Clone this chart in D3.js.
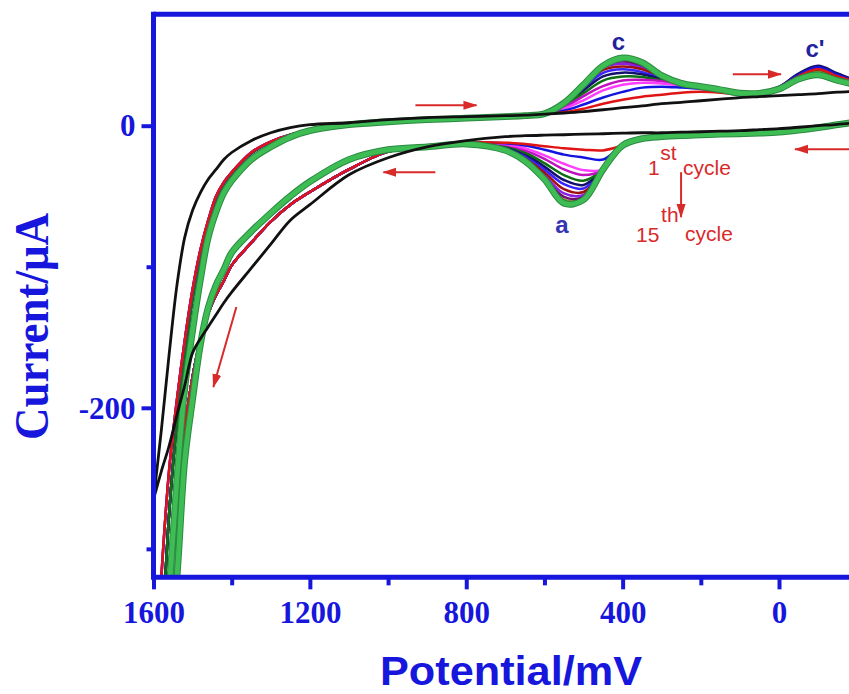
<!DOCTYPE html>
<html>
<head>
<meta charset="utf-8">
<script src="https://cdn.jsdelivr.net/npm/d3@7"></script>
<style>
  body { margin: 0; background: #fff; }
  svg { display: block; }
</style>
</head>
<body>
<svg id="chart" width="849" height="694"></svg>
<script>
// potential grids (mV); the steep part near 1600 mV and the peak region
const steepE = [1600, 1580, 1560, 1540, 1520, 1500, 1480, 1460, 1440, 1420, 1400, 1350, 1300, 1250, 1200, 1100, 1000];
const midE = [900, 800, 700, 650, 600, 550, 500, 450, 400, 350, 300, 250, 200, 150, 100, 50, 0, -50, -100, -150, -200, -250, -300];

// steep part of the loops (current, uA), upper and lower branch
const blackUpSteep = [-265, -216, -162, -113, -79, -60, -47.5, -38, -31, -24, -19, -10.6, -5, -1.4, 0.7, 2.1, 4.3];
const blackDnSteep = [-265, -245, -227, -205, -184, -161, -151, -142.5, -134, -125.5, -118, -101, -84, -67, -56, -34.8, -22.7];
const greenUpSteep = [-480, -400, -330, -250, -186, -145, -109, -79, -61, -47.5, -39, -24, -15, -8, -3.5, 0.7, 2.8];
const greenDnSteep = [-520, -450, -380, -320, -237, -194, -155, -129, -113, -102, -90, -75, -62, -50, -39.7, -24, -17];
const bandUpA = [-420, -320, -244, -194, -152, -116, -88, -67, -50, -40, -33, -19, -11.3, -6.4, -3.5, 0.7, 2.8];
const bandUpB = [-440, -370, -275, -210, -162, -122, -92, -70, -52, -41, -34, -19.5, -11.5, -6.5, -3.5, 0.7, 2.8];
const bandDn = [-400, -360, -320, -265, -215, -178, -152, -133, -120, -110, -99, -83, -68, -56, -47, -31, -18.4];

// peak region of the black (no redox peaks) curve
const blackUpMid = [5.7, 6.4, 7.1, 7.5, 8.2, 9, 10, 11.3, 12.8, 14, 15.6, 16.5, 17.7, 18.8, 19.9, 20.6, 21.3, 22, 22.7, 23.8, 24.5, 25.3, 26];
const blackDnMid = [-15, -10.6, -7.8, -7.1, -6.7, -6.4, -6, -5.7, -5.3, -5, -5, -4.6, -4.3, -3.9, -3.5, -2.8, -2.1, -1.1, 0, 1, 2.8, 10, 24];

// cycles 1st .. 15th (last is the thick green one)
const cycleColors = ["#e01414", "#1414e0", "#ff3cff", "#c010c0", "#0f6e14", "#12126e", "#3a22ff",
                     "#a01010", "#8a20e0", "#6e106e", "#86862a", "#3a7a78", "#b0601e", "#3fbd55"];

const cyclesUpMid = [
  [4.3, 5.3, 6.4, 7.1, 8.3, 9.5, 12, 15.6, 18.4, 20.6, 22, 23.4, 24, 23.4, 22, 23.4, 27, 35, 40, 35, 31, 29, 28],
  [4.3, 5.3, 6.4, 7.1, 8.3, 10.6, 15, 20, 24, 27, 27.7, 27, 26, 24.5, 22.5, 23.4, 27, 36, 41.5, 36, 31.5, 29, 28],
  [4.3, 5.3, 6.4, 7.1, 8.3, 12, 18, 25, 29, 30.5, 30, 28.5, 27, 25, 22.5, 23.4, 27, 35.5, 40.5, 35.5, 31, 29, 28],
  [4.3, 5.3, 6.4, 7.1, 8.3, 13, 21, 28, 32, 32.5, 31.5, 29.5, 27.5, 25.5, 23, 23.4, 27, 35.5, 41, 35.5, 31, 29, 28],
  [4.3, 5.3, 6.4, 7.1, 8.3, 14, 23, 32, 34.8, 34.5, 32, 30, 28, 26, 23, 23.4, 27, 35, 40, 35, 31, 29, 28],
  [4.3, 5.3, 6.4, 7.1, 8.3, 14.5, 25, 35, 37.6, 36.5, 33, 30.5, 28, 26, 23, 23.5, 27.5, 37, 42.5, 37, 32, 29.5, 28],
  [4.3, 5.3, 6.4, 7.1, 8.3, 15, 26.5, 37.5, 40, 38, 33.5, 30.5, 28, 26, 23, 23.5, 27.5, 36.5, 42, 36.5, 31.5, 29, 28],
  [4.3, 5.3, 6.4, 7.1, 8.3, 15.5, 27.5, 39.5, 42, 40, 34, 30.5, 28, 26, 23, 23.4, 27, 35, 40, 35, 31, 29, 28],
  [4.3, 5.3, 6.4, 7.1, 8.3, 15.5, 28, 41, 44, 41, 34.5, 30.5, 28, 26, 23, 23.4, 27, 35.5, 41, 35.5, 31, 29, 28],
  [4.3, 5.3, 6.4, 7.1, 8.3, 16, 28.5, 42, 45.5, 42, 35, 30.5, 28, 26, 23, 23.4, 27, 35.5, 41, 35.5, 31, 29, 28],
  [4.3, 5.3, 6.4, 7.1, 8.3, 16, 28.5, 42.5, 46.5, 43, 35, 30.5, 28, 26, 23, 23.4, 27, 34.5, 39, 34, 30.5, 28.5, 28],
  [4.3, 5.3, 6.4, 7.1, 8.3, 16, 29, 42.5, 47, 43.5, 35.3, 30.5, 28, 26, 23, 23.4, 26.5, 34, 38, 33.5, 30, 28, 27.5],
  [4.3, 5.3, 6.4, 7.1, 8.3, 16, 29, 42.5, 47.5, 44, 35.5, 30.5, 28, 26, 23, 23.4, 26.5, 34, 37.5, 33, 30, 28, 27.5],
  [4.3, 5.3, 6.4, 7.1, 8.5, 16, 29, 42.5, 48, 44.7, 35.5, 30, 27.7, 25.5, 23, 23, 26, 33, 36, 32, 29, 27.7, 27]
];

const cyclesDnMid = [
  [-15, -12, -12, -13, -14.5, -16, -17, -17.5, -14, -9.2, -7.8, -7, -6.5, -6, -5.7, -5.3, -4.6, -3.2, -1.4, 0.7, 3.5, 12, 27],
  [-15, -12, -12.5, -14, -17, -20.5, -22.5, -24, -14, -9.2, -7.8, -7, -6.5, -6, -5.7, -5.3, -4.6, -3.2, -1.4, 0.7, 3.5, 12, 27],
  [-15, -12, -13, -16, -21, -27, -31.5, -31, -14, -9.2, -7.8, -7, -6.5, -6, -5.7, -5.3, -4.6, -3.2, -1.4, 0.7, 3.5, 12, 27],
  [-15, -12, -13.5, -17.5, -23.5, -31, -35, -31, -14, -9.2, -7.8, -7, -6.5, -6, -5.7, -5.3, -4.6, -3.2, -1.4, 0.7, 3.5, 12, 27],
  [-15, -12.5, -14, -19, -26.5, -35, -39, -31, -14, -9.2, -7.8, -7, -6.5, -6, -5.7, -5.3, -4.6, -3.2, -1.4, 0.7, 3.5, 12, 27],
  [-15, -12.5, -14.5, -20, -29, -38.5, -42, -31, -14, -9.2, -7.8, -7, -6.5, -6, -5.7, -5.3, -4.6, -3.2, -1.4, 0.7, 3.5, 12, 27],
  [-15, -12.5, -15, -21, -31, -41.5, -44.5, -31, -14, -9.2, -7.8, -7, -6.5, -6, -5.7, -5.3, -4.6, -3.2, -1.4, 0.7, 3.5, 12, 27],
  [-15, -13, -15.5, -22, -33, -45, -47, -31, -14, -9.2, -7.8, -7, -6.5, -6, -5.7, -5.3, -4.6, -3.2, -1.4, 0.7, 3.5, 12, 27],
  [-15, -13, -16, -23, -35, -48, -49, -31, -14, -9.2, -7.8, -7, -6.5, -6, -5.7, -5.3, -4.6, -3.2, -1.4, 0.7, 3.5, 12, 27],
  [-15, -13, -16.5, -23.5, -36, -50.5, -50.5, -31, -14, -9.2, -7.8, -7, -6.5, -6, -5.7, -5.3, -4.6, -3.2, -1.4, 0.7, 3.5, 12, 27],
  [-15, -13, -17, -24, -37, -52.5, -51.5, -31, -14, -9.2, -7.8, -7, -6.5, -6, -5.7, -5.3, -4.6, -3.2, -1.4, 0.7, 3.5, 12, 27],
  [-15, -13, -17, -24.5, -37.5, -53.5, -52, -31, -14, -9.2, -7.8, -7, -6.5, -6, -5.7, -5.3, -4.6, -3.2, -1.4, 0.7, 3.5, 12, 27],
  [-15, -13, -17.5, -25, -38, -54.5, -52.5, -31, -14, -9.2, -7.8, -7, -6.5, -6, -5.7, -5.3, -4.6, -3.2, -1.4, 0.7, 3.5, 12, 27],
  [-15, -13, -17.5, -25, -38, -55, -52.5, -31, -14, -9.2, -7.8, -7, -6.5, -6, -5.7, -5.3, -4.6, -3.2, -1.4, 0.7, 3.5, 12, 27]
];

// axes
const xTicks = [1600, 1200, 800, 400, 0];
const xMinor = [1400, 1000, 600, 200];
const yTicks = [0, -200];
const yMinor = [-100, -300];
const yLo = -320.2, yHi = 79;

// annotations in data units [E, I]
const peakLabels = [
  { text: "c", at: [411, 53.5], color: "#22229c" },
  { text: "c'", at: [-92, 48.5], color: "#22229c" },
  { text: "a", at: [555, -76.2], color: "#3434b4" }
];
const sweepArrows = [
  [[930, 14.5], [774, 14.5]],
  [[879, -33], [1012, -33]],
  [[118, 36.5], [-5, 36.5]],
  [[-179, -16.7], [-41, -16.7]],
  [[1388, -128.6], [1447, -185.3]],
  [[250.5, -33], [250.5, -64.8]]
];

const blue = "#1616dc";
const red = "#d92a2a";

const svg = d3.select("#chart");
const x = d3.scaleLinear().domain([1600, 0]).range([153.5, 779]);
const y = d3.scaleLinear().domain([0, -200]).range([125.7, 407.8]);

const defs = svg.append("defs");
defs.append("clipPath").attr("id", "plot-clip")
  .append("rect")
  .attr("x", x(1600)).attr("y", y(yHi))
  .attr("width", 900 - x(1600)).attr("height", y(yLo) - y(yHi));
defs.append("marker")
  .attr("id", "head")
  .attr("markerUnits", "userSpaceOnUse")
  .attr("viewBox", "0 -6 14 12")
  .attr("refX", 13).attr("refY", 0)
  .attr("markerWidth", 14).attr("markerHeight", 12)
  .attr("orient", "auto")
  .append("path").attr("d", "M0,-4.5L14,0L0,4.5Z").attr("fill", red);

function loop(upS, upM, dnS, dnM) {
  const up = steepE.map((e, i) => [e, upS[i]]).concat(midE.map((e, i) => [e, upM[i]]));
  const dn = steepE.map((e, i) => [e, dnS[i]]).concat(midE.map((e, i) => [e, dnM[i]])).reverse();
  return up.concat(dn.slice(1));
}

const line = d3.line()
  .x(d => x(d[0]))
  .y(d => y(d[1]))
  .curve(d3.curveCatmullRom.alpha(0.5));

const plot = svg.append("g").attr("clip-path", "url(#plot-clip)");

// colored cycles, drawn from the 14th back to the 1st so the early ones stay visible
const last = cycleColors.length - 1;
for (let k = last - 1; k >= 0; k--) {
  const up = k < 4 ? bandUpA : bandUpB;
  plot.append("path")
    .datum(loop(up, cyclesUpMid[k], bandDn, cyclesDnMid[k]))
    .attr("d", line)
    .attr("fill", "none")
    .attr("stroke", cycleColors[k])
    .attr("stroke-width", 2.5);
}

// final (15th) cycle: thick green with a darker rim
const greenLoop = loop(greenUpSteep, cyclesUpMid[last], greenDnSteep, cyclesDnMid[last]);
plot.append("path").datum(greenLoop).attr("d", line)
  .attr("fill", "none").attr("stroke", "#2a8a40").attr("stroke-width", 6.8);
plot.append("path").datum(greenLoop).attr("d", line)
  .attr("fill", "none").attr("stroke", cycleColors[last]).attr("stroke-width", 4.8);

// black curve
plot.append("path")
  .datum(loop(blackUpSteep, blackUpMid, blackDnSteep, blackDnMid))
  .attr("d", line)
  .attr("fill", "none")
  .attr("stroke", "#111")
  .attr("stroke-width", 2.8);

// frame
const frame = svg.append("g").attr("stroke", blue).attr("stroke-width", 5).attr("fill", "none");
frame.append("line").attr("x1", x(1600)).attr("x2", x(1600)).attr("y1", y(yHi) - 2.5).attr("y2", y(yLo) + 2.5);
frame.append("line").attr("x1", x(1600)).attr("x2", 849).attr("y1", y(yHi)).attr("y2", y(yHi));
frame.append("line").attr("x1", x(1600)).attr("x2", 849).attr("y1", y(yLo)).attr("y2", y(yLo));

function styleAxis(sel) {
  sel.select(".domain").remove();
  sel.selectAll(".tick line").attr("stroke", blue).attr("stroke-width", 4);
  sel.selectAll(".tick text")
    .attr("fill", blue)
    .style("font-family", "'Liberation Serif', 'Times New Roman', serif")
    .style("font-weight", "bold")
    .style("font-size", "31px");
}

const plain = d => String(d);

svg.append("g").attr("transform", `translate(0,${y(yLo)})`)
  .call(d3.axisBottom(x).tickValues(xMinor).tickSize(8).tickFormat(""))
  .call(styleAxis);
svg.append("g").attr("transform", `translate(0,${y(yLo)})`)
  .call(d3.axisBottom(x).tickValues(xTicks).tickSize(12).tickFormat(plain))
  .call(styleAxis)
  .call(g => g.selectAll(".tick text").attr("y", 45.5).attr("dy", null));

svg.append("g").attr("transform", `translate(${x(1600)},0)`)
  .call(d3.axisLeft(y).tickValues(yMinor).tickSize(7).tickFormat(""))
  .call(styleAxis);
svg.append("g").attr("transform", `translate(${x(1600)},0)`)
  .call(d3.axisLeft(y).tickValues(yTicks).tickSize(12).tickPadding(6).tickFormat(plain))
  .call(styleAxis)
  .call(g => g.selectAll(".tick text").attr("dy", "0.33em"));

// axis titles
svg.append("text")
  .attr("transform", "translate(48,326.5) rotate(-90)")
  .attr("text-anchor", "middle")
  .attr("textLength", 227)
  .attr("lengthAdjust", "spacingAndGlyphs")
  .attr("fill", blue)
  .style("font-family", "'Liberation Serif', 'Times New Roman', serif")
  .style("font-weight", "bold")
  .style("font-size", "48px")
  .text("Current/\u03bcA");

svg.append("text")
  .attr("x", 380).attr("y", 685)
  .attr("textLength", 262)
  .attr("lengthAdjust", "spacingAndGlyphs")
  .attr("fill", blue)
  .style("font-family", "'Liberation Sans', Arial, sans-serif")
  .style("font-weight", "bold")
  .style("font-size", "40px")
  .text("Potential/mV");

// peak labels
svg.selectAll(".peak-label")
  .data(peakLabels)
  .join("text")
  .attr("class", "peak-label")
  .attr("x", d => x(d.at[0])).attr("y", d => y(d.at[1]))
  .attr("text-anchor", "middle")
  .attr("fill", d => d.color)
  .style("font-family", "'Liberation Sans', Arial, sans-serif")
  .style("font-weight", "bold")
  .style("font-size", "24px")
  .text(d => d.text);

// sweep direction arrows
svg.selectAll(".sweep")
  .data(sweepArrows)
  .join("line")
  .attr("class", "sweep")
  .attr("x1", d => x(d[0][0])).attr("y1", d => y(d[0][1]))
  .attr("x2", d => x(d[1][0])).attr("y2", d => y(d[1][1]))
  .attr("stroke", red)
  .attr("stroke-width", 2)
  .attr("marker-end", "url(#head)");

// cycle annotation
const note = svg.append("g")
  .attr("fill", red)
  .style("font-family", "'Liberation Sans', Arial, sans-serif")
  .style("font-size", "21px");
note.append("text").attr("x", x(335)).attr("y", y(-35.1)).text("1");
note.append("text").attr("x", x(304)).attr("y", y(-24.5)).text("st");
note.append("text").attr("x", x(245.4)).attr("y", y(-35.1)).text("cycle");
note.append("text").attr("x", x(365.5)).attr("y", y(-82.6)).text("15");
note.append("text").attr("x", x(301.6)).attr("y", y(-68.4)).text("th");
note.append("text").attr("x", x(240.3)).attr("y", y(-81.9)).text("cycle");
</script>
</body>
</html>
